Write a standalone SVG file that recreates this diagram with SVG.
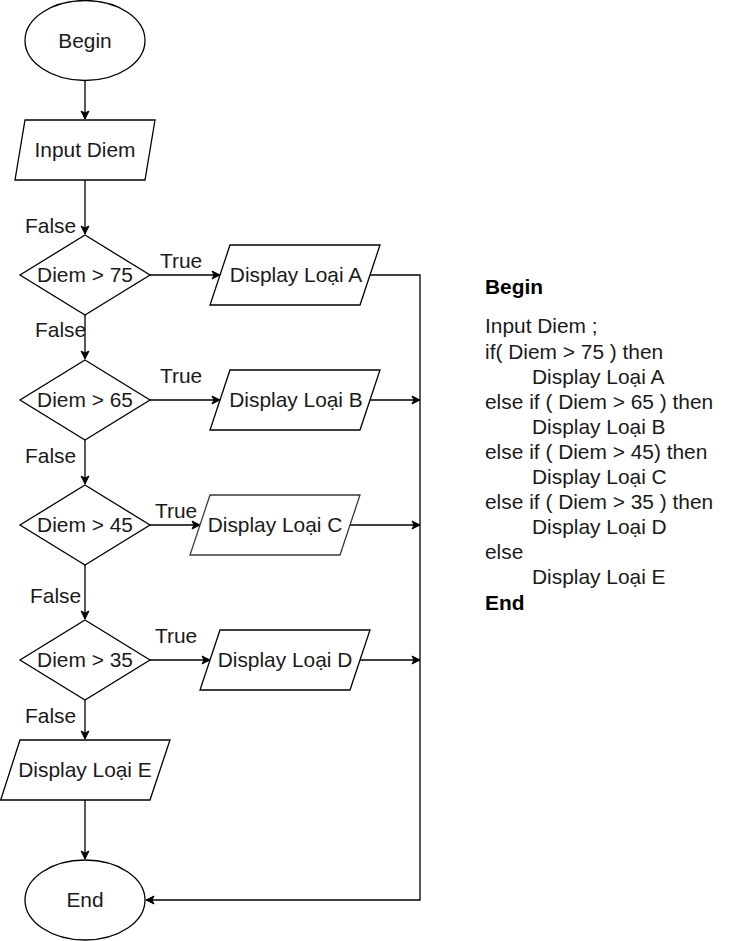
<svg xmlns="http://www.w3.org/2000/svg" width="741" height="941" viewBox="0 0 741 941">
<defs>
<marker id="arr" markerUnits="userSpaceOnUse" markerWidth="10" markerHeight="10" refX="9" refY="5" orient="auto">
<path d="M1,1 L9,5 L1,9 L3,5 Z" fill="#000" stroke="#000" stroke-width="1"/>
</marker>
<style>
.s{fill:#fff;stroke:#000;stroke-width:1.3}
.g{stroke:#3a3a3a}
.t{font-family:"Liberation Sans",Arial,sans-serif;font-size:20.9px;fill:#1a1a1a;text-anchor:middle}
.l{font-family:"Liberation Sans",Arial,sans-serif;font-size:20.9px;fill:#1a1a1a}
.b{font-weight:bold;fill:#000}
.c{fill:none;stroke:#000;stroke-width:1.3}
</style>
</defs>
<rect width="741" height="941" fill="#fff"/>
<g id="connectors">
<path class="c" d="M85,80V119" marker-end="url(#arr)"/>
<path class="c" d="M85,180V234" marker-end="url(#arr)"/>
<path class="c" d="M85,315V359" marker-end="url(#arr)"/>
<path class="c" d="M85,440V484" marker-end="url(#arr)"/>
<path class="c" d="M85,565V619" marker-end="url(#arr)"/>
<path class="c" d="M85,700V739" marker-end="url(#arr)"/>
<path class="c" d="M85,800V859" marker-end="url(#arr)"/>
<path class="c" d="M150,275H220" marker-end="url(#arr)"/>
<path class="c" d="M150,400H220" marker-end="url(#arr)"/>
<path class="c g" d="M150,525H200" marker-end="url(#arr)"/>
<path class="c" d="M150,660H210" marker-end="url(#arr)"/>
<path class="c" d="M370,275H420V900H146" marker-end="url(#arr)"/>
<path class="c" d="M370,400H420" marker-end="url(#arr)"/>
<path class="c" d="M350,525H420" marker-end="url(#arr)"/>
<path class="c" d="M360,660H420" marker-end="url(#arr)"/>
<text class="l" x="25" y="233">False</text>
<text class="l" x="160" y="268">True</text>
<text class="l" x="35" y="337">False</text>
<text class="l" x="160" y="383">True</text>
<text class="l" x="25" y="463">False</text>
<text class="l" x="155" y="518">True</text>
<text class="l" x="30" y="603">False</text>
<text class="l" x="155" y="643">True</text>
<text class="l" x="25" y="723">False</text>
</g>
<g id="begin">
<ellipse class="s" cx="85" cy="40.5" rx="60" ry="40"/>
<text class="t" x="85" y="48">Begin</text>
</g>
<g id="input">
<polygon class="s" points="25,120 155,120 145,180 15,180"/>
<text class="t" x="85" y="157">Input Diem</text>
</g>
<g id="d75">
<polygon class="s" points="85,235 150,275 85,315 20,275"/>
<text class="t" x="85" y="282">Diem &gt; 75</text>
</g>
<g id="d65">
<polygon class="s" points="85,360 150,400 85,440 20,400"/>
<text class="t" x="85" y="407">Diem &gt; 65</text>
</g>
<g id="d45">
<polygon class="s" points="85,485 150,525 85,565 20,525"/>
<text class="t" x="85" y="532">Diem &gt; 45</text>
</g>
<g id="d35">
<polygon class="s" points="85,620 150,660 85,700 20,660"/>
<text class="t" x="85" y="667">Diem &gt; 35</text>
</g>
<g id="dispA">
<polygon class="s" points="230,245 380,245 360,305 210,305"/>
<text class="t" x="296" y="282">Display Loại A</text>
</g>
<g id="dispB">
<polygon class="s" points="230,370 380,370 360,430 210,430"/>
<text class="t" x="296" y="407">Display Loại B</text>
</g>
<g id="dispC">
<polygon class="s g" points="210,495 360,495 340,555 190,555"/>
<text class="t" x="275" y="532">Display Loại C</text>
</g>
<g id="dispD">
<polygon class="s" points="220,630 370,630 350,690 200,690"/>
<text class="t" x="285" y="667">Display Loại D</text>
</g>
<g id="dispE">
<polygon class="s" points="20,740 170,740 150,800 0.7,800"/>
<text class="t" x="85" y="777">Display Loại E</text>
</g>
<g id="end">
<ellipse class="s" cx="85" cy="900" rx="60" ry="40"/>
<text class="t" x="85" y="907">End</text>
</g>
<g id="pseudocode">
<text class="l b" x="485" y="294">Begin</text>
<text class="l" x="485" y="333">Input Diem ;</text>
<text class="l" x="485" y="359">if( Diem &gt; 75 ) then</text>
<text class="l" x="532" y="384">Display Loại A</text>
<text class="l" x="485" y="409">else if ( Diem &gt; 65 ) then</text>
<text class="l" x="532" y="434">Display Loại B</text>
<text class="l" x="485" y="459">else if ( Diem &gt; 45) then</text>
<text class="l" x="532" y="484">Display Loại C</text>
<text class="l" x="485" y="509">else if ( Diem &gt; 35 ) then</text>
<text class="l" x="532" y="534">Display Loại D</text>
<text class="l" x="485" y="559">else</text>
<text class="l" x="532" y="584">Display Loại E</text>
<text class="l b" x="485" y="610">End</text>
</g>
</svg>
